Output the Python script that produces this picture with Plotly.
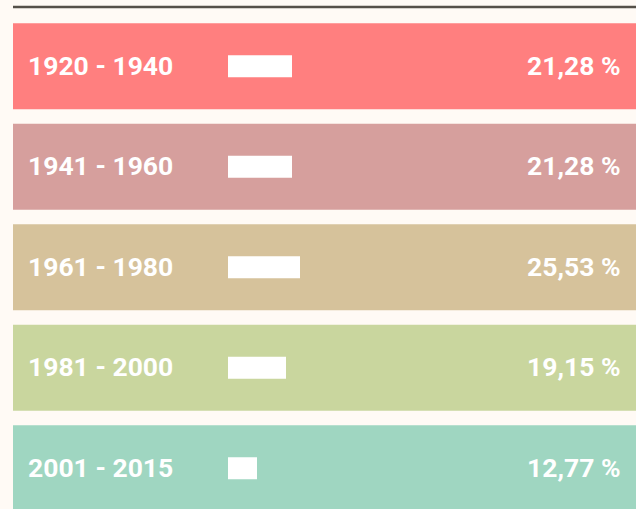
import plotly.graph_objects as go

periods = ["1920 - 1940", "1941 - 1960", "1961 - 1980", "1981 - 2000", "2001 - 2015"]
shares = [21.28, 21.28, 25.53, 19.15, 12.77]
bar_lengths = [64, 64, 72, 58, 29]
colors = ["#ff7f7f", "#d69f9d", "#d6c29b", "#c9d69e", "#9fd6c1"]

W, H = 636, 509
ml = 13
mt = 16
plot_w = W - ml
plot_h = H - mt
pitch = 100.5
ybottom = -0.5 + plot_h / pitch
bar_offset = 228 - ml

fig = go.Figure()
fig.add_trace(go.Bar(
    y=periods, x=[1] * len(periods), orientation="h",
    marker=dict(color=colors, line_width=0), width=86 / pitch,
    xaxis="x", yaxis="y", hoverinfo="skip", showlegend=False))
fig.add_trace(go.Bar(
    y=periods, x=bar_lengths, orientation="h",
    marker=dict(color="white", line_width=0), width=22 / pitch,
    xaxis="x2", yaxis="y", hoverinfo="skip", showlegend=False))

font = dict(family="Roboto", size=26.5, color="white", weight=700)
annotations = []
for p, v in zip(periods, shares):
    annotations.append(dict(x=0, xref="paper", y=p, yref="y", text=p,
                            xanchor="left", xshift=14, yshift=1, borderpad=0,
                            showarrow=False, font=font))
    annotations.append(dict(x=1, xref="paper", y=p, yref="y",
                            text=f"{v:.2f}".replace(".", ",") + " %",
                            xanchor="right", xshift=-14, yshift=1, borderpad=0,
                            showarrow=False, font=font))

ly = 1 + (mt - 7) / plot_h
fig.update_layout(
    width=W, height=H,
    margin=dict(l=ml, r=0, t=mt, b=0, pad=0),
    paper_bgcolor="#fffaf5", plot_bgcolor="#fffaf5",
    barmode="overlay",
    xaxis=dict(range=[0, 1], visible=False, fixedrange=True),
    xaxis2=dict(range=[-bar_offset, plot_w - bar_offset], visible=False,
                overlaying="x", anchor="y", fixedrange=True),
    yaxis=dict(type="category", categoryorder="array", categoryarray=periods,
               range=[ybottom, -0.5], visible=False, fixedrange=True),
    annotations=annotations,
    shapes=[dict(type="line", xref="paper", yref="paper", x0=0, x1=1, y0=ly, y1=ly,
                 line=dict(color="#555049", width=2.5))],
    showlegend=False,
)
fig.write_html("out.html", config={"displayModeBar": False},
               post_script="document.body.style.margin='0';document.body.style.overflow='hidden';")
